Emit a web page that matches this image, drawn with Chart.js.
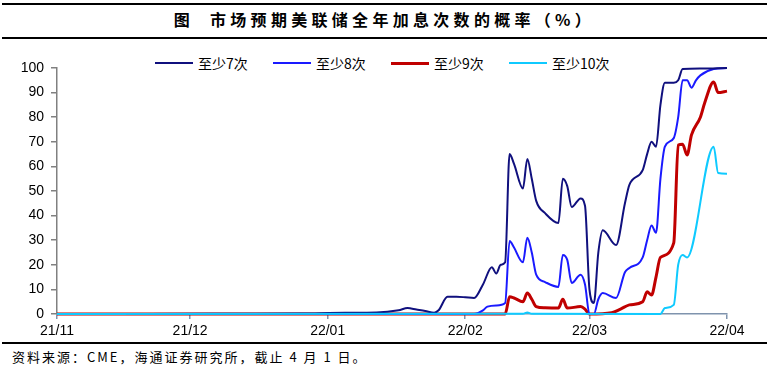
<!DOCTYPE html>
<html lang="zh">
<head>
<meta charset="UTF-8">
<title>市场预期美联储全年加息次数的概率</title>
<script src="https://cdn.jsdelivr.net/npm/chart.js@4.4.1/dist/chart.umd.min.js"></script>
<style>
  body {
    margin: 0;
    width: 769px;
    height: 375px;
    background: #fff;
    position: relative;
    overflow: hidden;
    font-family: "Noto Sans CJK SC", "Liberation Sans", sans-serif;
  }
  .rule {
    position: absolute;
    left: 2px;
    width: 765px;
    height: 1.5px;
    background: #000;
  }
  .title {
    position: absolute;
    left: 0;
    top: 7px;
    width: 769px;
    text-align: center;
    font-size: 16px;
    font-weight: 700;
    letter-spacing: 4.3px;
    color: #000;
  }
  #legend {
    position: absolute;
    top: 53px;
    left: 0;
    height: 18px;
  }
  .legend-item {
    position: absolute;
    top: 0;
    display: flex;
    align-items: center;
    font-size: 14px;
    color: #000;
    white-space: nowrap;
  }
  .legend-line {
    width: 38px;
    margin-right: 5px;
  }
  .chart-box {
    position: absolute;
    left: 0;
    top: 40px;
    width: 769px;
    height: 300px;
  }
  .source {
    position: absolute;
    left: 12px;
    top: 347px;
    font-size: 13px;
    letter-spacing: 2px;
    color: #000;
  }
</style>
</head>
<body>
  <div class="rule" style="top:3px"></div>
  <div class="title">图&nbsp;&nbsp;市场预期美联储全年加息次数的概率（%）</div>
  <div class="rule" style="top:37px"></div>
  <div id="legend"></div>
  <div class="chart-box"><canvas id="chart"></canvas></div>
  <div class="rule" style="top:342px"></div>
  <div class="source">资料来源：CME，海通证券研究所，截止 4 月 1 日。</div>

<script>
// x values are days counted from 2021-11-01
const monthTickDays = [0, 30, 61, 92, 120, 151];
const monthLabels = ["21/11", "21/12", "22/01", "22/02", "22/03", "22/04"];
const yTicks = [0, 10, 20, 30, 40, 50, 60, 70, 80, 90, 100];

const seriesLabels = ["至少7次", "至少8次", "至少9次", "至少10次"];
const seriesColors = ["#10107e", "#1a1aff", "#c00000", "#0fcaff"];
const seriesWidths = [2, 2, 3, 2];

// 至少7次
const s7Days = [0, 20, 40, 55, 65, 72, 77, 79, 81, 83, 85, 86, 88, 90, 92, 94, 96, 98, 99, 100, 101, 102, 103, 105, 106, 107, 108, 110, 113, 114, 115, 116, 118, 119, 120, 121, 122, 123, 126, 128, 129, 132, 133, 134, 135, 136, 137, 139, 140, 141, 145, 151];
const s7Vals = [0, 0, 0.1, 0.2, 0.5, 0.6, 1.5, 2.4, 1.8, 1.2, 0.5, 1.5, 7, 7, 6.8, 6.5, 12, 19, 16.5, 20, 21, 65, 61, 51, 63, 55, 46, 41, 37, 55, 52, 43.5, 47, 44, 10, 4.5, 25, 34, 28, 45, 52.5, 58.5, 65, 70, 68, 85, 94, 94, 95, 99.6, 99.8, 100];

// 至少8次
const s8Days = [0, 94, 96, 97, 99, 101, 102, 103, 105, 106, 107, 108, 110, 113, 114, 115, 116, 118, 119, 120, 121, 122, 123, 126, 128, 129, 132, 133, 134, 135, 136, 137, 139, 140, 141, 142, 143, 144, 145, 148, 151];
const s8Vals = [0, 0, 1.5, 3, 3.5, 4.5, 29.7, 27, 21, 31, 25, 16, 13, 11, 24, 22, 12.6, 16, 12, 0, 0, 6, 8.5, 6.5, 17, 18.7, 23, 30, 36, 33, 55, 68, 71.5, 80, 95, 95, 92, 95, 97, 99.6, 100];

// 至少9次
const s9Days = [0, 101, 102, 103, 105, 106, 107, 108, 110, 113, 114, 115, 118, 119, 120, 125, 127, 129, 132, 133, 134, 135, 136, 139, 140, 141, 142, 143, 145, 146, 148, 149, 151];
const s9Vals = [0, 0, 7, 6.5, 5, 8.5, 6, 3, 2.5, 2.4, 6, 2.4, 3, 2, 0, 0.5, 2, 3.7, 5, 9, 7.7, 15, 23, 28.9, 68.7, 69, 64.6, 72.8, 80, 86, 94.3, 90, 90.6];

// 至少10次
const s10Days = [0, 105, 106, 107, 136, 137, 139, 140, 141, 142, 148, 149, 151];
const s10Vals = [0, 0.1, 0.6, 0.1, 0, 2.4, 3.7, 20, 24, 23, 68, 57.3, 57];

const seriesDays = [s7Days, s8Days, s9Days, s10Days];
const seriesVals = [s7Vals, s8Vals, s9Vals, s10Vals];
// cyan drawn on top, then navy, blue, red
const drawOrder = [1, 2, 3, 0];

// legend (HTML, positions match the reference)
const legendLeft = [155, 273, 391, 509];
const legend = document.getElementById("legend");
seriesLabels.forEach((label, i) => {
  const item = document.createElement("div");
  item.className = "legend-item";
  item.style.left = legendLeft[i] + "px";
  item.innerHTML = `<span class="legend-line" style="height:${seriesWidths[i]}px;background:${seriesColors[i]}"></span>${label}`;
  legend.appendChild(item);
});

const datasets = seriesLabels.map((label, i) => ({
  label,
  data: seriesDays[i].map((d, j) => ({ x: d, y: seriesVals[i][j] })),
  borderColor: seriesColors[i],
  backgroundColor: seriesColors[i],
  borderWidth: seriesWidths[i],
  pointRadius: 0,
  cubicInterpolationMode: "monotone",
  order: drawOrder[i],
  // let the zero lines sit fully on the axis, like the reference
  clip: { left: 2, top: 2, right: 2, bottom: 3 },
}));

const tickFont = { family: "'Liberation Sans', Arial, sans-serif", size: 14 };

new Chart(document.getElementById("chart"), {
  type: "line",
  data: { datasets },
  options: {
    responsive: true,
    maintainAspectRatio: false,
    animation: false,
    layout: { padding: { top: 28, right: 42, left: 0, bottom: 0 } },
    plugins: {
      legend: { display: false },
      tooltip: { enabled: false },
    },
    scales: {
      x: {
        type: "linear",
        min: 0,
        max: 151,
        afterBuildTicks: (scale) => {
          scale.ticks = monthTickDays.map((v) => ({ value: v }));
        },
        afterFit: (scale) => {
          scale.height = 26;
        },
        ticks: {
          autoSkip: false,
          maxRotation: 0,
          padding: 4,
          color: "#000",
          font: tickFont,
          callback: (v) => monthLabels[monthTickDays.indexOf(v)],
        },
        grid: { drawOnChartArea: false, tickLength: 5, color: "#7f93ad", lineWidth: 1.5 },
        border: { color: "#7f93ad", width: 1.5 },
      },
      y: {
        min: 0,
        max: 100,
        afterBuildTicks: (scale) => {
          scale.ticks = yTicks.map((v) => ({ value: v }));
        },
        afterFit: (scale) => {
          scale.width = 57;
        },
        ticks: { padding: 7, color: "#000", font: tickFont },
        grid: { drawOnChartArea: false, tickLength: 6, color: "#808080", lineWidth: 1.5 },
        border: { color: "#808080", width: 1.5 },
      },
    },
  },
});
</script>
</body>
</html>
